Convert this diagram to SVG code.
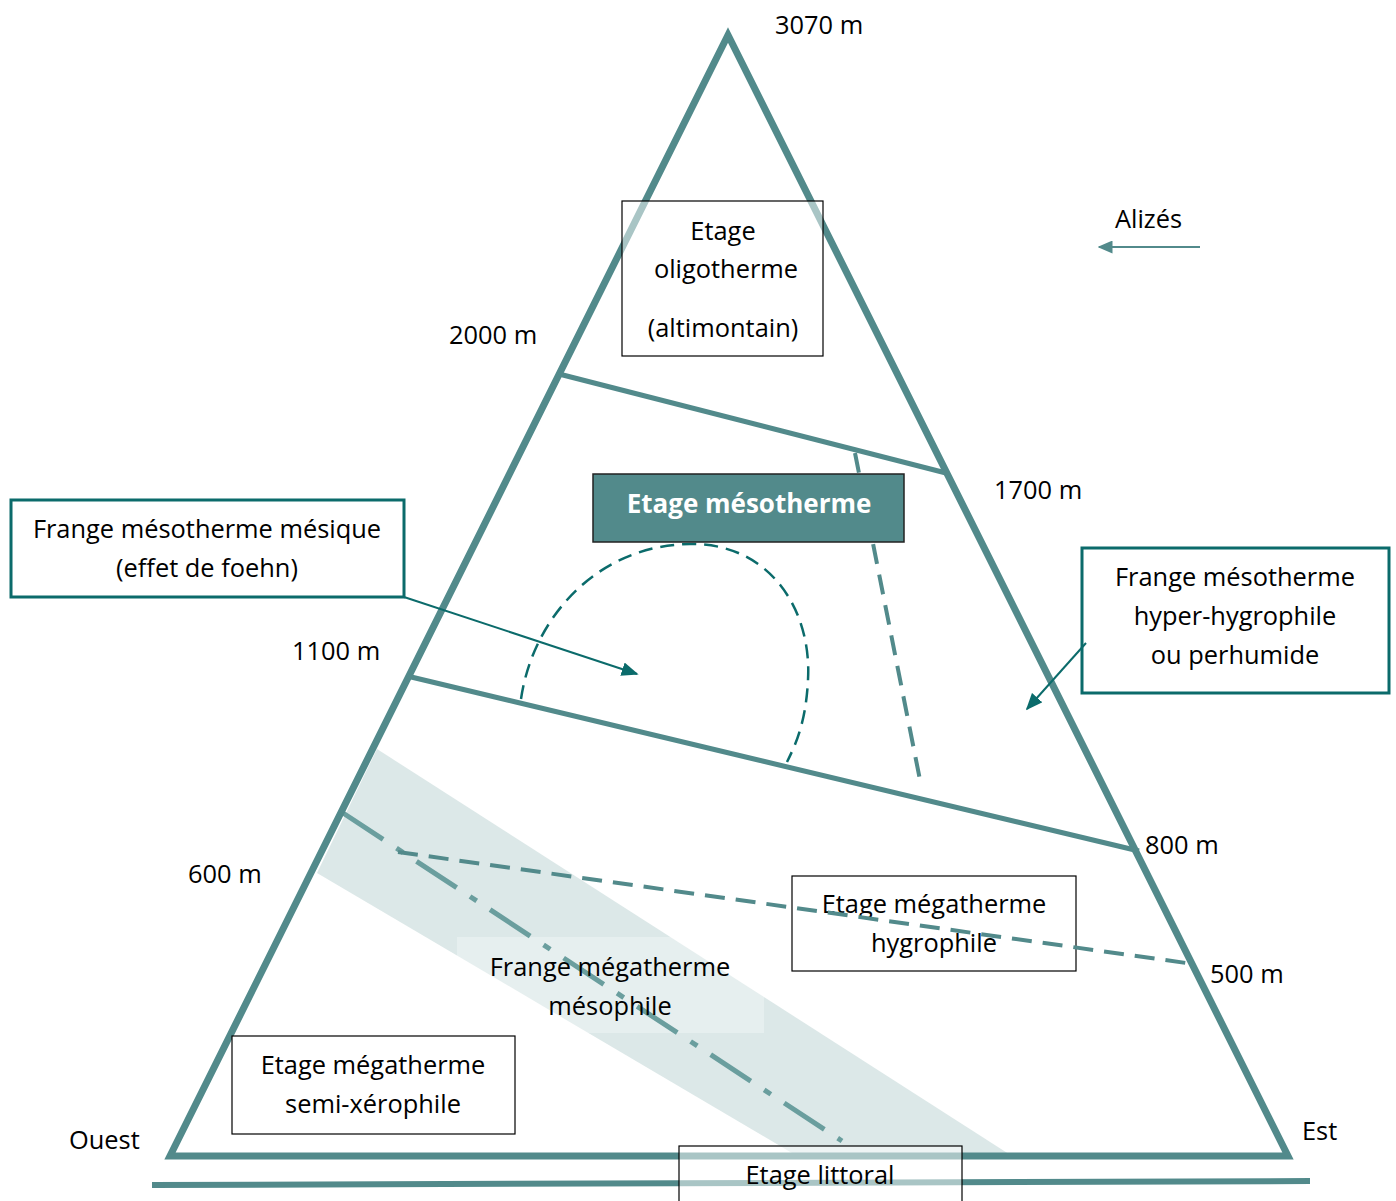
<svg xmlns="http://www.w3.org/2000/svg" width="1396" height="1201" viewBox="0 0 1396 1201">
<defs>
<style>
text{font-family:"Open Sans","Liberation Sans",sans-serif;font-size:25.4px;fill:#000}
.c{text-anchor:middle}
.edge{fill:none;stroke:#528a8b;stroke-width:7}
.lvl{fill:none;stroke:#528a8b;stroke-width:5}
.dash{fill:none;stroke:#528a8b;stroke-width:4;stroke-dasharray:20 11}
.box{fill:#fff;stroke:#000;stroke-width:1.2}
.tbox{fill:#fff;stroke:#0b6b6b;stroke-width:3}
.arr{fill:none;stroke:#0b6b6b;stroke-width:2}
</style>
<marker id="ah" viewBox="0 0 10 10" refX="9" refY="5" markerWidth="17" markerHeight="14" markerUnits="userSpaceOnUse" orient="auto" preserveAspectRatio="none">
<path d="M0,0 L10,5 L0,10 Z" fill="#0b6b6b"/>
</marker>
<marker id="ah2" viewBox="0 0 10 10" refX="9" refY="5" markerWidth="15" markerHeight="13" markerUnits="userSpaceOnUse" orient="auto" preserveAspectRatio="none">
<path d="M0,0 L10,5 L0,10 Z" fill="#528a8b"/>
</marker>
</defs>
<rect width="1396" height="1201" fill="#fff"/>

<g id="band">
<polygon points="377,749 1012,1156 797,1156 317,873" fill="#528a8b" fill-opacity="0.2"/>
<rect x="457" y="937" width="307" height="96" fill="#fff" fill-opacity="0.3"/>
<line x1="343" y1="813" x2="842" y2="1141" stroke="#6a9e9e" stroke-width="5" stroke-dasharray="48 16 8 16"/>
</g>

<g id="mountain">
<polygon class="edge" points="728,35 1288,1156 170,1156"/>
<line x1="152" y1="1185" x2="1310" y2="1181" stroke="#528a8b" stroke-width="6"/>
<line class="lvl" x1="559" y1="374" x2="946" y2="473"/>
<line class="lvl" x1="407" y1="676" x2="1139" y2="851"/>
</g>

<g id="limits">
<line class="dash" x1="855" y1="453" x2="921" y2="785"/>
<path d="M521,699 C533,617 598,545 690,544 C770,543 812,610 808,680 C806,720 797,742 787,762" fill="none" stroke="#0b6b6b" stroke-width="2.5" stroke-dasharray="14 8"/>
</g>

<g id="altitudes">
<text x="775" y="34">3070 m</text>
<text x="449" y="344">2000 m</text>
<text x="994" y="499">1700 m</text>
<text x="292" y="660">1100 m</text>
<text x="1145" y="854">800 m</text>
<text x="188" y="883">600 m</text>
<text x="1210" y="983">500 m</text>
<text x="69" y="1149">Ouest</text>
<text x="1302" y="1140">Est</text>
<text x="1115" y="228">Alizés</text>
</g>

<g id="oligotherme">
<rect x="622" y="201" width="201" height="155" fill="#fff" fill-opacity="0.5" stroke="#000" stroke-width="1.2"/>
<text class="c" x="723" y="240">Etage</text>
<text class="c" x="726" y="278">oligotherme</text>
<text class="c" x="723" y="337">(altimontain)</text>
</g>

<g id="mesotherme">
<rect x="593" y="474" width="311" height="68" fill="#528a8b" stroke="#222" stroke-width="1.5"/>
<text class="c" x="749" y="513" style="font-weight:bold;font-size:26px;fill:#fff">Etage mésotherme</text>
</g>

<g id="frange-mesique">
<rect class="tbox" x="11" y="500" width="393" height="97"/>
<text class="c" x="207" y="538">Frange mésotherme mésique</text>
<text class="c" x="207" y="577">(effet de foehn)</text>
</g>

<g id="frange-hyper">
<rect class="tbox" x="1082" y="548" width="307" height="145"/>
<text class="c" x="1235" y="586">Frange mésotherme</text>
<text class="c" x="1235" y="625">hyper-hygrophile</text>
<text class="c" x="1235" y="664">ou perhumide</text>
</g>

<g id="megatherme-hygrophile">
<rect x="792" y="876" width="284" height="95" fill="none" stroke="#000" stroke-width="1.2"/>
<text class="c" x="934" y="913">Etage mégatherme</text>
<text class="c" x="934" y="952">hygrophile</text>
</g>

<g id="frange-mesophile">
<text class="c" x="610" y="976">Frange mégatherme</text>
<text class="c" x="610" y="1015">mésophile</text>
</g>

<g id="semi-xerophile">
<rect class="box" x="232" y="1036" width="283" height="98"/>
<text class="c" x="373" y="1074">Etage mégatherme</text>
<text class="c" x="373" y="1113">semi-xérophile</text>
</g>

<g id="littoral">
<rect x="679" y="1146" width="283" height="70" fill="#fff" fill-opacity="0.5" stroke="#000" stroke-width="1.2"/>
<text class="c" x="820" y="1184">Etage littoral</text>
</g>

<g id="connectors">
<line class="dash" x1="398" y1="852" x2="1186" y2="963"/>
<line class="arr" x1="404" y1="597" x2="637" y2="674" marker-end="url(#ah)"/>
<line class="arr" x1="1086" y1="643" x2="1027" y2="709" marker-end="url(#ah)"/>
<line x1="1200" y1="247" x2="1099" y2="247" stroke="#528a8b" stroke-width="2" marker-end="url(#ah2)"/>
</g>
</svg>
